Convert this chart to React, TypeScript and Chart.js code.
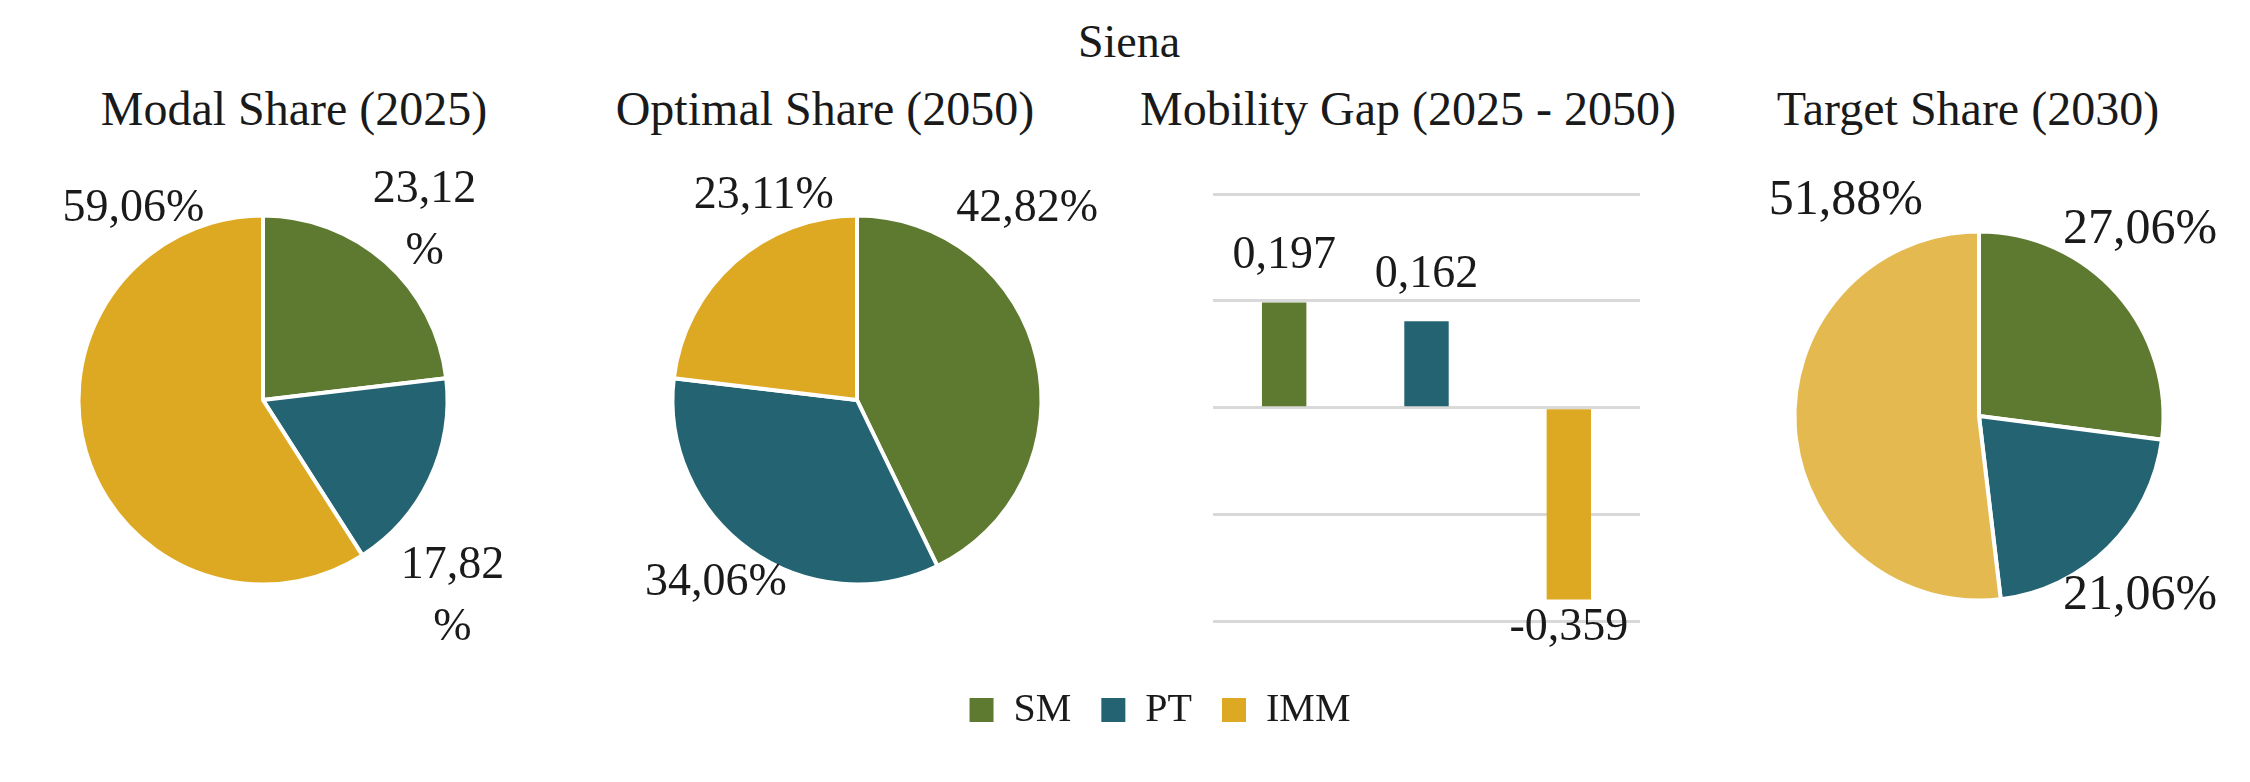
import React, { useEffect, useRef } from "react";
import { Chart, registerables } from "chart.js";

Chart.register(...registerables);

const FONT = "'Liberation Serif', 'Times New Roman', serif";
const INK = "#1a1a1a";

// data
const modes = ["SM", "PT", "IMM"];
const modalShare2025 = [23.12, 17.82, 59.06];
const optimalShare2050 = [42.82, 34.06, 23.11];
const targetShare2030 = [27.06, 21.06, 51.88];
const mobilityGap = [0.197, 0.162, -0.359];
const gapTicks = { min: -0.4, max: 0.4, step: 0.2 };

// styles
const modeColors = ["#5d7a30", "#246472", "#dea922"];
const targetColors = ["#5d7a30", "#246472", "#e4ba50"];
const PIE_BOX = 520;
const PIE_R = 184.5;
const PIE_BORDER = 4;

// label anchors, in units of the pie radius from the pie centre
const modalAnchors = [[0.876, -0.973], [1.027, 1.07], [-0.703, -1.038]];
const optimalAnchors = [[0.922, -1.038], [-0.765, 0.989], [-0.505, -1.108]];
const targetAnchors = [[0.873, -1.011], [0.873, 0.973], [-0.722, -1.168]];

const pct = (v: number) => v.toFixed(2).replace(".", ",");

const pieLabels = {
  id: "pieLabels",
  afterDatasetsDraw(chart: any, _args: any, opts: any) {
    const { ctx } = chart;
    const meta = chart.getDatasetMeta(0);
    const values = chart.data.datasets[0].data as number[];
    ctx.save();
    ctx.font = `${opts.size}px ${FONT}`;
    ctx.fillStyle = INK;
    ctx.textAlign = "center";
    ctx.textBaseline = "middle";
    meta.data.forEach((arc: any, i: number) => {
      const { x, y, outerRadius } = arc.getProps(["x", "y", "outerRadius"], true);
      const [dx, dy] = opts.anchors[i];
      const text = pct(values[i]);
      const lines = opts.wrap && opts.wrap[i] ? [text, "%"] : [text + "%"];
      const lx = x + dx * outerRadius;
      const ly = y + dy * outerRadius;
      lines.forEach((line: string, k: number) => {
        ctx.fillText(line, lx, ly + (k - (lines.length - 1) / 2) * opts.lineHeight);
      });
    });
    ctx.restore();
  },
};

const barLabels = {
  id: "barLabels",
  afterDatasetsDraw(chart: any, _args: any, opts: any) {
    const { ctx } = chart;
    const meta = chart.getDatasetMeta(0);
    const values = chart.data.datasets[0].data as number[];
    ctx.save();
    ctx.font = `${opts.size}px ${FONT}`;
    ctx.fillStyle = INK;
    ctx.textAlign = "center";
    ctx.textBaseline = "alphabetic";
    meta.data.forEach((bar: any, i: number) => {
      const { x, y } = bar.getProps(["x", "y"], true);
      const v = values[i];
      const text = v.toFixed(3).replace(".", ",");
      ctx.fillText(text, x, v >= 0 ? y - opts.gapAbove : y + opts.gapBelow);
    });
    ctx.restore();
  },
};

const Heading = ({ text, cx, top, size }: any) => (
  <div
    style={{
      position: "absolute",
      left: cx - 400,
      top,
      width: 800,
      textAlign: "center",
      fontSize: size,
      lineHeight: 1,
      whiteSpace: "nowrap",
    }}
  >
    {text}
  </div>
);

const PieChart = ({ values, colors, anchors, wrap, labelSize, cx, cy }: any) => {
  const ref = useRef<HTMLCanvasElement>(null);

  useEffect(() => {
    if (!ref.current) return;
    const pad = PIE_BOX / 2 - PIE_R - PIE_BORDER / 2;
    const chart = new Chart(ref.current, {
      type: "pie",
      data: {
        labels: modes,
        datasets: [
          {
            data: values,
            backgroundColor: colors,
            borderColor: "#ffffff",
            borderWidth: PIE_BORDER,
          },
        ],
      },
      options: {
        responsive: false,
        animation: false,
        events: [],
        layout: { padding: pad },
        plugins: {
          legend: { display: false },
          tooltip: { enabled: false },
          pieLabels: { anchors, wrap, size: labelSize, lineHeight: 62 },
        } as any,
      },
      plugins: [pieLabels],
    });
    return () => chart.destroy();
  }, []);

  return (
    <canvas
      ref={ref}
      width={PIE_BOX}
      height={PIE_BOX}
      style={{ position: "absolute", left: cx - PIE_BOX / 2, top: cy - PIE_BOX / 2 }}
    />
  );
};

const GapChart = () => {
  const ref = useRef<HTMLCanvasElement>(null);

  useEffect(() => {
    if (!ref.current) return;
    const chart = new Chart(ref.current, {
      type: "bar",
      data: {
        labels: modes,
        datasets: [
          {
            label: "Mobility Gap",
            data: mobilityGap,
            backgroundColor: modeColors,
            categoryPercentage: 0.8,
            barPercentage: 0.39,
          },
        ],
      },
      options: {
        responsive: false,
        animation: false,
        events: [],
        layout: { padding: { left: 63, right: 70, top: 44, bottom: 48.5 } },
        scales: {
          x: { display: false },
          y: {
            min: gapTicks.min,
            max: gapTicks.max,
            ticks: { display: false, stepSize: gapTicks.step },
            grid: { color: "#d9d9d9", lineWidth: 3, drawTicks: false },
            border: { display: false },
          },
        },
        plugins: {
          legend: { display: false },
          tooltip: { enabled: false },
          barLabels: { size: 46, gapAbove: 34, gapBelow: 40 },
        } as any,
      },
      plugins: [barLabels],
    });
    return () => chart.destroy();
  }, []);

  return (
    <canvas
      ref={ref}
      width={560}
      height={520}
      style={{ position: "absolute", left: 1150, top: 150 }}
    />
  );
};

const LegendChart = () => {
  const ref = useRef<HTMLCanvasElement>(null);

  useEffect(() => {
    if (!ref.current) return;
    const chart = new Chart(ref.current, {
      type: "bar",
      data: {
        labels: [],
        datasets: modes.map((m, i) => ({ label: m, data: [], backgroundColor: modeColors[i] })),
      },
      options: {
        responsive: false,
        animation: false,
        events: [],
        scales: { x: { display: false }, y: { display: false } },
        plugins: {
          tooltip: { enabled: false },
          legend: {
            position: "top",
            maxHeight: 120,
            labels: {
              boxWidth: 24,
              boxHeight: 24,
              padding: 30,
              color: INK,
              font: { family: FONT, size: 40 },
            },
          },
        },
      },
    });
    return () => chart.destroy();
  }, []);

  return (
    <canvas
      ref={ref}
      width={600}
      height={120}
      style={{ position: "absolute", left: 1160 - 300, top: 660 }}
    />
  );
};

export default function App() {
  return (
    <div
      style={{
        position: "absolute",
        left: 0,
        top: 0,
        width: 2250,
        height: 782,
        overflow: "hidden",
        background: "#ffffff",
        fontFamily: FONT,
        color: INK,
      }}
    >
      <Heading text="Siena" cx={1129} top={19} size={46} />
      <Heading text="Modal Share (2025)" cx={294} top={85} size={48} />
      <Heading text="Optimal Share (2050)" cx={825} top={85} size={48} />
      <Heading text="Mobility Gap (2025 - 2050)" cx={1408} top={85} size={48} />
      <Heading text="Target Share (2030)" cx={1968} top={85} size={48} />

      <PieChart
        values={modalShare2025}
        colors={modeColors}
        anchors={modalAnchors}
        wrap={[true, true, false]}
        labelSize={46}
        cx={263}
        cy={400}
      />
      <PieChart
        values={optimalShare2050}
        colors={modeColors}
        anchors={optimalAnchors}
        labelSize={46}
        cx={856.5}
        cy={400}
      />
      <GapChart />
      <PieChart
        values={targetShare2030}
        colors={targetColors}
        anchors={targetAnchors}
        labelSize={50}
        cx={1978.5}
        cy={416}
      />
      <LegendChart />
    </div>
  );
}
